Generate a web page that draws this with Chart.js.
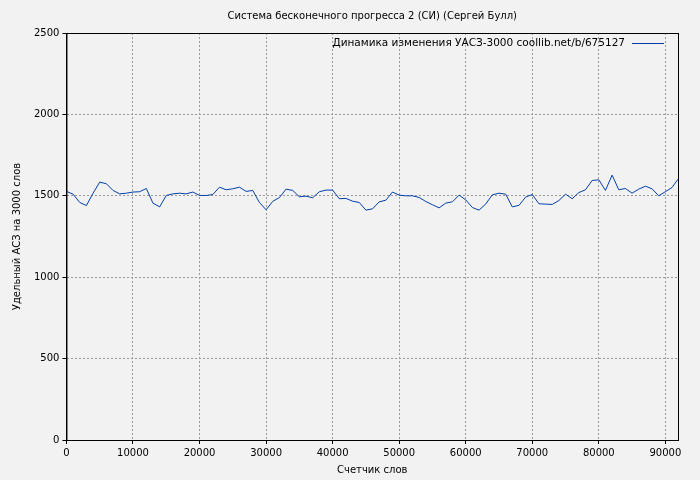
<!DOCTYPE html>
<html>
<head>
<meta charset="utf-8">
<script src="https://cdn.jsdelivr.net/npm/chart.js@4"></script>
<style>
  body { margin: 0; background: #f2f2f2; }
  #wrap { width: 700px; height: 480px; }
</style>
</head>
<body>
<div id="wrap"><canvas id="myChart"></canvas></div>
<script>
// word counter (x) and UASZ-3000 values (y)
const words = [0, 1000, 2000, 3000, 4000, 5000, 6000, 7000, 8000, 9000, 10000, 11000, 12000, 13000, 14000, 15000, 16000, 17000, 18000, 19000, 20000, 21000, 22000, 23000, 24000, 25000, 26000, 27000, 28000, 29000, 30000, 31000, 32000, 33000, 34000, 35000, 36000, 37000, 38000, 39000, 40000, 41000, 42000, 43000, 44000, 45000, 46000, 47000, 48000, 49000, 50000, 51000, 52000, 53000, 54000, 55000, 56000, 57000, 58000, 59000, 60000, 61000, 62000, 63000, 64000, 65000, 66000, 67000, 68000, 69000, 70000, 71000, 72000, 73000, 74000, 75000, 76000, 77000, 78000, 79000, 80000, 81000, 82000, 83000, 84000, 85000, 86000, 87000, 88000, 89000, 90000, 91000, 91900];
const values = [1527, 1510, 1459, 1440, 1516, 1584, 1574, 1533, 1512, 1516, 1523, 1525, 1545, 1455, 1432, 1502, 1512, 1516, 1512, 1523, 1502, 1502, 1508, 1553, 1537, 1543, 1553, 1527, 1533, 1459, 1414, 1466, 1489, 1541, 1533, 1494, 1498, 1488, 1525, 1535, 1535, 1482, 1484, 1467, 1459, 1412, 1420, 1463, 1473, 1523, 1504, 1500, 1500, 1490, 1465, 1445, 1426, 1455, 1463, 1504, 1475, 1428, 1412, 1449, 1506, 1516, 1510, 1432, 1441, 1492, 1508, 1451, 1449, 1447, 1471, 1510, 1482, 1520, 1537, 1594, 1598, 1533, 1627, 1537, 1545, 1516, 1541, 1559, 1543, 1500, 1525, 1551, 1602];
const xTicks = [0, 10000, 20000, 30000, 40000, 50000, 60000, 70000, 80000, 90000];
const seriesLabel = 'Динамика изменения УАСЗ-3000 coollib.net/b/675127';
const chartTitle = 'Система бесконечного прогресса 2 (СИ) (Сергей Булл)';

const points = words.map((w, i) => ({ x: w, y: values[i] }));
const lineColor = '#003fa8';
const font = { family: 'DejaVu Sans', size: 10, weight: 'normal' };

// title centred over plot, legend: text then a short line sample, top-right inside plot
const legendPlugin = {
	id: 'rightLegend',
	afterDraw(chart) {
		const { ctx, chartArea } = chart;
		ctx.save();
		ctx.fillStyle = '#000';
		ctx.textBaseline = 'middle';
		ctx.font = '10px "DejaVu Sans"';
		ctx.textAlign = 'center';
		ctx.fillText(chartTitle, (chartArea.left + chartArea.right) / 2, 16);

		ctx.font = '10.5px "DejaVu Sans"';
		ctx.textAlign = 'right';
		const y = chartArea.top + 10;
		ctx.fillText(seriesLabel, chartArea.right - 53, y);
		ctx.strokeStyle = lineColor;
		ctx.lineWidth = 1;
		ctx.beginPath();
		ctx.moveTo(chartArea.right - 46, y + 0.5);
		ctx.lineTo(chartArea.right - 14, y + 0.5);
		ctx.stroke();
		// frame
		ctx.strokeStyle = '#000';
		ctx.strokeRect(chartArea.left + 0.5, chartArea.top + 0.5, chartArea.right - chartArea.left, chartArea.bottom - chartArea.top);
		ctx.restore();
	},
};

new Chart(document.getElementById('myChart').getContext('2d'), {
	type: 'line',
	data: {
		datasets: [
			{
				data: points,
				borderColor: lineColor,
				borderWidth: 1,
				pointRadius: 0,
				tension: 0,
			},
		],
	},
	options: {
		responsive: true,
		maintainAspectRatio: false,
		animation: false,
		layout: { padding: { left: 3, right: 22, top: 33, bottom: 4 } },
		plugins: {
			legend: { display: false },
			tooltip: { enabled: false },
			title: { display: false },
		},
		scales: {
			x: {
				type: 'linear',
				min: 0,
				max: 91900,
				ticks: { color: '#000', font: font, maxRotation: 0, callback: (v) => String(v) },
				afterBuildTicks: (axis) => {
					axis.ticks = xTicks.map((v) => ({ value: v }));
				},
				grid: { color: '#999', tickColor: '#000', tickLength: 4 },
				border: { display: true, color: '#000', dash: [2, 2] },
				title: { display: true, text: 'Счетчик слов', color: '#000', font: font, padding: { top: 2, bottom: 0 } },
			},
			y: {
				min: 0,
				max: 2500,
				ticks: { stepSize: 500, color: '#000', font: font, callback: (v) => String(v) },
				grid: { color: '#999', tickColor: '#000', tickLength: 4 },
				border: { display: true, color: '#000', dash: [2, 2] },
				title: { display: true, text: 'Удельный АСЗ на 3000 слов', color: '#000', font: font, padding: 8 },
			},
		},
	},
	plugins: [legendPlugin],
});
</script>
</body>
</html>
